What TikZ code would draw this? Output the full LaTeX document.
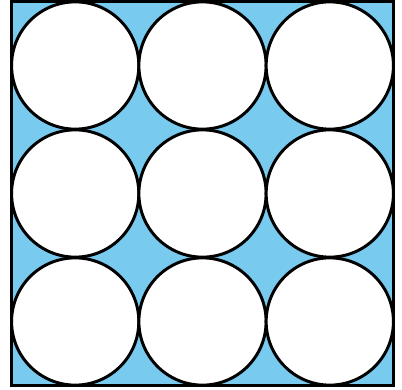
\documentclass[tikz,border=0pt]{standalone}
\definecolor{packblue}{RGB}{120,202,238}
\usetikzlibrary{positioning}

\begin{document}
\begin{tikzpicture}[x=0.025cm,y=-0.025cm,
  packframe/.style={draw=black,fill=packblue,line width=2.1pt,minimum width=9.55cm,minimum height=9.6cm,inner sep=0pt},
  packdisc/.style={draw=black,fill=white,circle,line width=2.1pt,minimum size=3.18cm,inner sep=0pt}
]
  \useasboundingbox (0,0) rectangle (402,389);
  \node[packframe] (frame) at (202.5,193.5) {};
  % three rows of three discs
  \foreach \col/\xx in {1/75.2,2/202.5,3/329.8}{
    \foreach \row/\yy in {1/65.5,2/193.5,3/321.5}{
      \node[packdisc] (disc\row\col) at (\xx,\yy) {};
    }
  }
\end{tikzpicture}
\end{document}
